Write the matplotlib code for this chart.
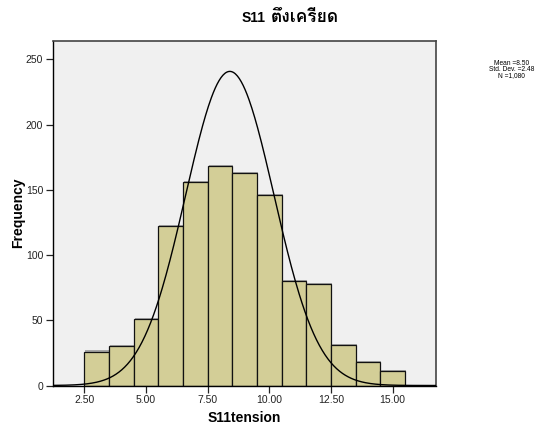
import numpy as np
import matplotlib
matplotlib.use("Agg")
import matplotlib.pyplot as plt
import matplotlib.patheffects as pe

# histogram data (bin width 1)
bin_centers = [3, 4, 5, 6, 7, 8, 9, 10, 11, 12, 13, 14, 15]
freqs = [26, 30, 51, 122, 156, 168, 163, 146, 80, 78, 31, 18, 11]
xticks = [2.5, 5.0, 7.5, 10.0, 12.5, 15.0]
yticks = [0, 50, 100, 150, 200, 250]

title_var = "S11"
title_thai = "ตึงเครียด"
xlabel = "S11tension"
ylabel = "Frequency"
stats_text = "Mean =8.50\nStd. Dev. =2.48\nN =1,080"

# normal curve as drawn (visual params)
curve_mean = 8.4
curve_sd = 1.79
n_total = sum(freqs)

plt.rcParams['font.family'] = ['Liberation Sans', 'Loma', 'Noto Sans Thai Looped', 'DejaVu Sans']

fig = plt.figure(figsize=(5.43, 4.28), dpi=100)
ax = fig.add_axes([53/543, 1 - 385.5/428, (436-53)/543, (385.5-41)/428])
ax.set_facecolor('#F0F0F0')

bars = ax.bar(bin_centers, freqs, width=1.0, color='#D3CE97', edgecolor='#111111', linewidth=0.9, zorder=2)
for b in bars:
    b.set_path_effects([pe.SimplePatchShadow(offset=(0.8, 0.8), shadow_rgbFace='#888888', alpha=0.7), pe.Normal()])

xs = np.linspace(1.2, 16.8, 400)
ys = n_total / (curve_sd * np.sqrt(2*np.pi)) * np.exp(-(xs - curve_mean)**2 / (2*curve_sd**2))
ax.plot(xs, ys, color='black', linewidth=1.0, zorder=3)

ax.set_xlim(1.23, 16.76)
ax.set_ylim(0, 264)
ax.set_xticks(xticks)
ax.set_xticklabels(["%.2f" % t for t in xticks])
ax.set_yticks(yticks)
ax.tick_params(direction='out', length=5, width=0.9, labelsize=7.5, colors='#222222', pad=2)
for s in ['left', 'bottom']:
    ax.spines[s].set_color('black')
    ax.spines[s].set_linewidth(1.0)
for s in ['top', 'right']:
    ax.spines[s].set_color('#444444')
    ax.spines[s].set_linewidth(1.2)

ax.set_xlabel(xlabel, fontsize=10, fontweight='bold', labelpad=4)
ax.set_ylabel(ylabel, fontsize=10, fontweight='bold', labelpad=0.5)

# title: latin part and thai part (thai glyphs are drawn wider in the original)
fig.text(265.5/543, 1 - 22/428, title_var, ha='right', va='baseline', fontsize=10, fontweight='bold')
fig.text(271/543, 1 - 22/428, title_thai, ha='left', va='baseline', fontsize=12.5, fontweight='bold')
fig.text(511.5/543, 1 - 69.5/428, stats_text, ha='center', va='center', fontsize=4.8, linespacing=0.85)

fig.savefig("out.png", dpi=100)
